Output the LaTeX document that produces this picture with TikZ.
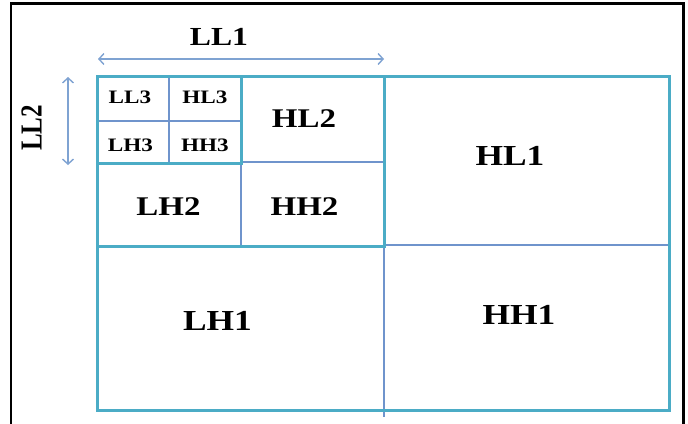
\documentclass[tikz,border=0pt]{standalone}
\usepackage{fontspec}
\usepackage{graphicx}
\setmainfont{Liberation Serif}
\newfontfamily\widebf[FakeStretch=1.22]{Liberation Serif Bold}
\newfontfamily\plainbf{Liberation Serif Bold}
\usetikzlibrary{arrows.meta}
\definecolor{bandteal}{HTML}{4BACC6}
\definecolor{splitblue}{HTML}{6F94CC}
\definecolor{dimblue}{HTML}{7FA3D2}
\tikzset{
  band/.style={draw=bandteal, line width=3pt},
  split/.style={draw=splitblue, line width=1.3pt},
  dim/.style={draw=dimblue, line width=1.4pt, {Straight Barb[length=5pt,width=11pt]}-{Straight Barb[length=5pt,width=11pt]}},
  lvlone/.style={font=\widebf\fontsize{29}{30}\selectfont, inner sep=0pt},
  lvltwo/.style={font=\widebf\fontsize{27}{28}\selectfont, inner sep=0pt},
  lvlthree/.style={font=\widebf\fontsize{19}{20}\selectfont, inner sep=0pt},
  dimlabel/.style={font=\widebf\fontsize{26}{27}\selectfont, inner sep=0pt},
  sidelabel/.style={font=\plainbf\fontsize{25}{26}\selectfont, inner sep=0pt},
}
\begin{document}
\begin{tikzpicture}[x=1pt, y=-1pt]
\useasboundingbox (0,0) rectangle (688,423);
\clip (0,0) rectangle (688,423);
\fill[white] (0,0) rectangle (688,423);
% outer frame, open at the bottom edge
\draw[black, line width=2.6pt] (11,440) -- (11,3.5) -- (683.5,3.5) -- (683.5,440);

% thin splits
\draw[split] (384,246) -- (384,417);
\draw[split] (384,245) -- (669,245);
\draw[split] (241,163) -- (241,246);
\draw[split] (241,162) -- (384,162);
\draw[split] (169,76) -- (169,163);
\draw[split] (97,121) -- (241,121);

% teal band outlines
\draw[band] (97,76) rectangle (669,410);
\draw[band] (97,76) rectangle (384,246);
\draw[band] (97,76) rectangle (241,163);

% level 3
\node[lvlthree] (ll3) at (130,97) {LL3};
\node[lvlthree] (hl3) at (205,97) {HL3};
\node[lvlthree] (lh3) at (130.5,145) {LH3};
\node[lvlthree] (hh3) at (205,145) {HH3};
% level 2
\node[lvltwo] (hl2) at (304,119) {HL2};
\node[lvltwo] (lh2) at (168.5,207) {LH2};
\node[lvltwo] (hh2) at (304.5,207) {HH2};
% level 1
\node[lvlone] (hl1) at (510,156) {HL1};
\node[lvlone] (lh1) at (217.5,321) {LH1};
\node[lvlone] (hh1) at (519,315) {HH1};

% dimension markers
\coordinate (llonea) at (98,59);
\coordinate (lloneb) at (384,59);
\draw[dim] (llonea) -- (lloneb);
\node[dimlabel] (llone) at (219,36.5) {LL1};
\coordinate (lltwoa) at (68,77);
\coordinate (lltwob) at (68,165);
\draw[dim] (lltwoa) -- (lltwob);
\node[sidelabel] (lltwo) at (31.5,128) {\scalebox{1.22}[1]{\rotatebox{90}{LL2}}};
\end{tikzpicture}
\end{document}
